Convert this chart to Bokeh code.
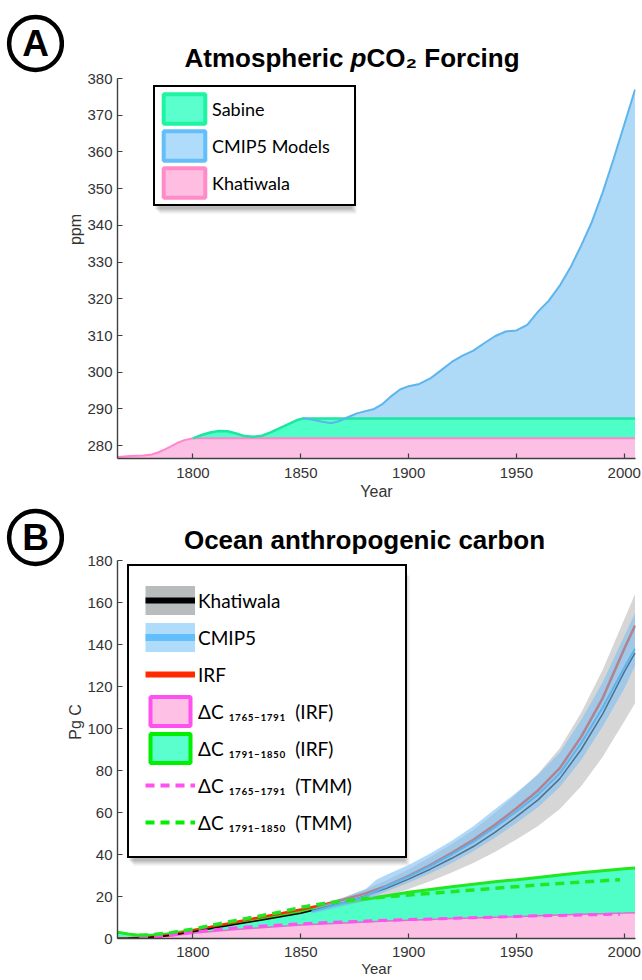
from bokeh.plotting import figure
from bokeh.models import Range1d, FixedTicker, Legend, LegendItem, Label, BoxAnnotation
from bokeh.layouts import column, row
from bokeh.embed import file_html
from bokeh.resources import INLINE

# ---------------- Panel A data (ppm) ----------------
khat_a_years = [1765, 1771, 1777, 1781, 1784, 1787, 1790, 1793, 1796, 1800, 2005]
khat_a_ppm = [276.9, 277.2, 277.3, 277.6, 278.2, 279.0, 279.9, 280.8, 281.5, 282.0, 282.0]

sabine_years = [1800, 1804, 1808, 1812, 1816, 1820, 1824, 1828, 1832, 1836, 1840, 1844, 1848, 1851, 1855, 2005]
sabine_ppm = [282.0, 282.9, 283.6, 284.0, 283.9, 283.3, 282.6, 282.4, 282.7, 283.6, 284.7, 285.8, 286.9, 287.4, 287.4, 287.4]

cmip_a_years = [1851, 1856, 1860, 1864, 1868, 1872, 1876, 1880, 1884, 1888, 1892, 1896, 1900, 1905,
                1910, 1915, 1920, 1925, 1930, 1935, 1940, 1945, 1950, 1955, 1960, 1965, 1970, 1975,
                1980, 1985, 1990, 1995, 2000, 2005]
cmip_a_ppm = [287.5, 287.0, 286.5, 286.1, 286.7, 287.8, 288.8, 289.4, 290.0, 291.4, 293.5, 295.3, 296.2, 296.8,
              298.3, 300.5, 302.8, 304.5, 305.9, 307.9, 309.8, 311.1, 311.4, 312.9, 316.5, 319.5, 323.5, 328.5,
              334.5, 341.0, 349.0, 358.0, 367.5, 377.0]

ya_ticks = [280, 290, 300, 310, 320, 330, 340, 350, 360, 370, 380]
x_ticks = [1800, 1850, 1900, 1950, 2000]

# ---------------- Panel B data (Pg C) ----------------
years_b = [1765, 1770, 1775, 1780, 1785, 1790, 1800, 1810, 1820, 1830, 1840, 1850, 1860, 1870,
           1880, 1890, 1900, 1910, 1920, 1930, 1940, 1950, 1960, 1970, 1980, 1990, 2000, 2005]
khat_b = [0.0, 0.1, 0.3, 0.6, 1.0, 1.6, 3.2, 5.0, 6.8, 8.5, 10.2, 12.0, 14.5, 17.2,
          20.3, 24.0, 28.3, 33.0, 38.2, 43.8, 50.5, 58.0, 66.0, 76.0, 90.0, 107.0, 127.0, 136.0]
khat_lo = [0.0, 0.0, 0.1, 0.3, 0.7, 1.2, 2.7, 4.4, 6.0, 7.5, 9.0, 10.5, 12.5, 14.7,
           17.2, 20.2, 23.6, 27.3, 31.4, 35.9, 41.2, 47.2, 53.6, 61.5, 72.5, 86.5, 103.5, 112.0]
khat_hi = [0.2, 0.3, 0.5, 0.9, 1.3, 2.0, 3.8, 5.7, 7.7, 9.6, 11.5, 13.6, 16.5, 19.7,
           23.4, 27.8, 33.0, 38.7, 45.0, 51.7, 59.8, 68.8, 78.5, 90.5, 107.5, 128.0, 152.0, 164.0]
irf_b = [0.0, 0.1, 0.3, 0.6, 1.1, 1.8, 3.8, 5.9, 7.9, 9.9, 11.8, 13.8, 16.0, 18.6,
         21.5, 25.2, 29.8, 35.0, 40.8, 47.0, 54.2, 62.0, 70.5, 81.0, 96.0, 114.5, 138.0, 149.0]
dc_1765_irf = [0.3, 0.35, 0.45, 0.6, 0.9, 1.3, 2.5, 3.5, 4.3, 5.0, 5.7, 6.4, 6.9, 7.4,
               7.9, 8.3, 8.7, 9.1, 9.5, 9.8, 10.1, 10.4, 10.8, 11.2, 11.5, 11.8, 12.1, 12.3]
dc_1791_irf_top = [3.0, 2.1, 1.6, 1.5, 1.8, 2.4, 3.9, 5.6, 7.5, 9.3, 11.2, 13.0, 15.0, 16.9,
                   18.7, 20.4, 22.0, 23.3, 24.6, 25.8, 27.0, 28.0, 29.1, 30.2, 31.3, 32.3, 33.2, 33.6]

years_c = [1855, 1860, 1870, 1880, 1885, 1890, 1900, 1910, 1920, 1930, 1940, 1950, 1960, 1970,
           1980, 1990, 2000, 2005]
cmip_b = [12.8, 14.2, 17.0, 20.0, 22.5, 25.0, 29.5, 34.5, 40.0, 46.0, 53.0, 60.5, 68.5, 78.5,
          93.0, 110.0, 129.0, 138.0]
cmip_hi = [13.8, 16.0, 19.5, 23.5, 28.0, 30.5, 35.0, 40.5, 46.5, 53.5, 61.5, 69.5, 78.0, 88.5,
           104.0, 122.0, 144.0, 155.0]
cmip_lo = [11.8, 13.0, 15.3, 18.0, 20.3, 22.5, 26.5, 31.0, 36.0, 41.5, 48.0, 55.0, 62.5, 72.0,
           85.0, 101.0, 119.0, 130.0]

years_t = [1775, 1780, 1790, 1800, 1810, 1820, 1830, 1840, 1850, 1860, 1870, 1880, 1890, 1900,
           1910, 1920, 1930, 1940, 1950, 1960, 1970, 1980, 1990, 1998]
dc_1765_tmm = [0.4, 0.6, 1.5, 3.0, 4.2, 5.1, 5.8, 6.4, 7.0, 7.5, 7.9, 8.3, 8.7, 9.0,
               9.3, 9.6, 9.9, 10.2, 10.5, 10.8, 11.0, 11.2, 11.4, 11.6]
dc_1791_tmm = [1.5, 1.7, 2.8, 4.5, 6.6, 8.6, 10.5, 12.5, 14.8, 16.6, 18.0, 19.0, 19.9, 20.7,
               21.5, 22.3, 23.1, 23.9, 24.7, 25.5, 26.2, 26.9, 27.5, 28.0]

yb_ticks = [0, 20, 40, 60, 80, 100, 120, 140, 160, 180]

# ranges: axis extent, and the view extends above the axis so the titles sit inside the frame
X_RANGE = (1765, 2005.2)
YA_AXIS = (276.5, 380)
YA_VIEW_TOP = 401.26
YB_AXIS = (0, 180)
YB_VIEW_TOP = 206.2

AX_COL = "#404040"
TXT_COL = "#333333"
AX_FONT = "Liberation Sans"
LEG_FONT = "Lato"
NAN = float("nan")


def style_axes(p, ylabel, yticks, ybounds, x_standoff, xlabel_standoff, xlabel_size):
    for ax in (p.xaxis[0], p.yaxis[0]):
        ax.major_tick_in = 5
        ax.major_tick_out = 0
        ax.minor_tick_line_color = None
        ax.axis_line_color = AX_COL
        ax.axis_line_width = 1.4
        ax.major_tick_line_color = AX_COL
        ax.major_tick_line_width = 1.2
        ax.major_label_text_font = AX_FONT
        ax.major_label_text_font_size = "15px"
        ax.major_label_text_color = TXT_COL
        ax.axis_label_text_font = AX_FONT
        ax.axis_label_text_font_size = "16px"
        ax.axis_label_text_font_style = "normal"
        ax.axis_label_text_color = TXT_COL
    p.yaxis[0].major_label_standoff = 5
    p.xaxis[0].major_label_standoff = x_standoff
    p.xaxis[0].ticker = FixedTicker(ticks=x_ticks)
    p.yaxis[0].ticker = FixedTicker(ticks=yticks)
    p.yaxis[0].bounds = ybounds
    p.yaxis[0].axis_label = ylabel
    p.yaxis[0].axis_label_standoff = 0
    p.xaxis[0].axis_label = "Year"
    p.xaxis[0].axis_label_standoff = xlabel_standoff
    p.xaxis[0].axis_label_text_font_size = xlabel_size
    p.xgrid.visible = False
    p.ygrid.visible = False
    p.outline_line_color = None


def badge(letter, height, cy):
    s = figure(width=64, height=height, output_backend="svg", toolbar_location=None,
               x_range=Range1d(0, 64), y_range=Range1d(0, height),
               x_axis_location=None, y_axis_location=None,
               min_border_left=0, min_border_right=0, min_border_top=0, min_border_bottom=0)
    s.grid.visible = False
    s.outline_line_color = None
    s.add_layout(Label(x=35, y=cy, x_units="canvas", y_units="canvas", text=letter,
                       text_font=AX_FONT, text_font_style="bold", text_font_size="37px",
                       text_align="center", text_baseline="middle", text_color="black",
                       background_fill_color="white", border_line_color="black",
                       border_line_width=4.5, border_radius=27,
                       padding=dict(left=13, right=13, top=6, bottom=6)))
    return s


def title_part(p, txt, x, y, style, align="left"):
    p.add_layout(Label(x=x, y=y, x_units="canvas", y_units="canvas", text=txt,
                       text_font=AX_FONT, text_font_style=style, text_font_size="26px",
                       text_align=align, text_baseline="alphabetic", text_color="black"))


def shadow(p, left, top, right, bottom):
    # soft drop shadow behind a legend box (canvas px)
    for dx, alpha in [(6, 0.07), (4, 0.10), (2, 0.12)]:
        p.add_layout(BoxAnnotation(left=left + dx, right=right + dx, top=top + dx + 1, bottom=bottom + dx + 1,
                                   left_units="canvas", right_units="canvas",
                                   top_units="canvas", bottom_units="canvas",
                                   fill_color="black", fill_alpha=alpha, line_color=None))


def legend_style():
    return dict(margin=0, label_text_font=LEG_FONT, label_text_color="black",
                border_line_color="black", border_line_width=2.5, border_line_alpha=1.0,
                background_fill_color="white", background_fill_alpha=1.0)


# ================= Panel A =================
pa = figure(width=578, height=505, output_backend="svg", toolbar_location=None,
            x_range=Range1d(*X_RANGE), y_range=Range1d(YA_AXIS[0], YA_VIEW_TOP),
            min_border_left=53, min_border_right=7, min_border_top=0, min_border_bottom=47)
style_axes(pa, "ppm", ya_ticks, YA_AXIS, 9, 2, "16px")

BLUE_FILL, BLUE_LINE = "#AEDAF8", "#5EB4EC"
GREEN_FILL, GREEN_LINE = "#4EFFC8", "#1EE6A0"
PINK_FILL, PINK_LINE = "#FBC0E3", "#FF86CF"

base_a = YA_AXIS[0]
pa.varea(x=cmip_a_years, y1=base_a, y2=cmip_a_ppm, fill_color=BLUE_FILL)
pa.varea(x=sabine_years, y1=base_a, y2=sabine_ppm, fill_color=GREEN_FILL)
pa.varea(x=khat_a_years, y1=base_a, y2=khat_a_ppm, fill_color=PINK_FILL)
pa.line(khat_a_years, khat_a_ppm, line_color=PINK_LINE, line_width=2)
pa.line(sabine_years, sabine_ppm, line_color=GREEN_LINE, line_width=2.5)
pa.line(cmip_a_years, cmip_a_ppm, line_color=BLUE_LINE, line_width=2)

la1 = pa.patch(x=[NAN], y=[NAN], fill_color="#5AFFCD", line_color="#1EF5A0", line_width=4)
la2 = pa.patch(x=[NAN], y=[NAN], fill_color="#AFDCFA", line_color="#64BEFA", line_width=4)
la3 = pa.patch(x=[NAN], y=[NAN], fill_color="#FFBEE1", line_color="#FF8CC8", line_width=4)
shadow(pa, 89, 89, 286, 206)
leg_a = Legend(items=[LegendItem(label="Sabine", renderers=[la1]),
                      LegendItem(label="CMIP5 Models", renderers=[la2]),
                      LegendItem(label="Khatiwala", renderers=[la3])],
               location=(36, 252), glyph_width=52, glyph_height=37, spacing=0, padding=3,
               label_standoff=2, label_width=139, label_text_font_size="18px", **legend_style())
pa.add_layout(leg_a)

# Title A (canvas px), above the bounded axis
title_part(pa, "Atmospheric", 120, 57, "bold")
title_part(pa, "p", 286, 57, "bold italic")
title_part(pa, "CO\u2082 Forcing", 302, 57, "bold")

# ================= Panel B =================
pb = figure(width=578, height=475, output_backend="svg", toolbar_location=None,
            x_range=Range1d(*X_RANGE), y_range=Range1d(YB_AXIS[0], YB_VIEW_TOP),
            min_border_left=53, min_border_right=7, min_border_top=0, min_border_bottom=42)
style_axes(pb, "Pg C", yb_ticks, YB_AXIS, 8, 0, "15px")

GRAY_BAND = "#D6D6D6"
PINKB_FILL, PINKB_LINE = "#FBC0E3", "#E070C8"
GREENB_FILL, GREENB_LINE = "#50FFC8", "#22E622"
CMIP_BAND, CMIP_LINE = "#7DBEF0", "#5AB4F0"
RED = "#FF2A00"

pb.varea(x=years_b, y1=khat_lo, y2=khat_hi, fill_color=GRAY_BAND)
pb.varea(x=years_b, y1=YB_AXIS[0], y2=dc_1765_irf, fill_color=PINKB_FILL)
pb.varea(x=years_b, y1=dc_1765_irf, y2=dc_1791_irf_top, fill_color=GREENB_FILL)
pb.line(years_b, dc_1765_irf, line_color=PINKB_LINE, line_width=1.5)
pb.line(years_b, dc_1791_irf_top, line_color=GREENB_LINE, line_width=3)
pb.line(years_b, irf_b, line_color=RED, line_width=2.5)
pb.line(years_b, khat_b, line_color="black", line_width=1.5)
pb.varea(x=years_c, y1=cmip_lo, y2=cmip_hi, fill_color=CMIP_BAND, fill_alpha=0.6)
pb.line(years_c, cmip_b, line_color=CMIP_LINE, line_width=2)
pb.line(years_t, dc_1765_tmm, line_color="#FF50F0", line_width=3, line_dash="9 6")
pb.line(years_t, dc_1791_tmm, line_color="#22E622", line_width=3.5, line_dash="9 6")

lb_kb = pb.line([NAN], [NAN], line_color="#B8BCBC", line_width=29)
lb_kl = pb.line([NAN], [NAN], line_color="black", line_width=6)
lb_cb = pb.line([NAN], [NAN], line_color="#AFDCFA", line_width=29)
lb_cl = pb.line([NAN], [NAN], line_color="#64BEFA", line_width=7)
lb_irf = pb.line([NAN], [NAN], line_color=RED, line_width=6)
lb_p = pb.patch(x=[NAN], y=[NAN], fill_color="#FFC0E6", line_color="#FF50F0", line_width=4)
lb_g = pb.patch(x=[NAN], y=[NAN], fill_color="#5AFFCD", line_color="#00F000", line_width=4)
lb_pd = pb.line([NAN], [NAN], line_color="#FF50F0", line_width=4, line_dash="9 6")
lb_gd = pb.line([NAN], [NAN], line_color="#00F000", line_width=4, line_dash="9 6")

shadow(pb, 63, 63, 339, 353)
leg_b = Legend(items=[LegendItem(label="Khatiwala", renderers=[lb_kb, lb_kl]),
                      LegendItem(label="CMIP5", renderers=[lb_cb, lb_cl]),
                      LegendItem(label="IRF", renderers=[lb_irf]),
                      LegendItem(label="\u0394C \u2081\u2087\u2086\u2085\u208b\u2081\u2087\u2089\u2081  (IRF)", renderers=[lb_p]),
                      LegendItem(label="\u0394C \u2081\u2087\u2089\u2081\u208b\u2081\u2088\u2085\u2080  (IRF)", renderers=[lb_g]),
                      LegendItem(label="\u0394C \u2081\u2087\u2086\u2085\u208b\u2081\u2087\u2089\u2081  (TMM)", renderers=[lb_pd]),
                      LegendItem(label="\u0394C \u2081\u2087\u2089\u2081\u208b\u2081\u2088\u2085\u2080  (TMM)", renderers=[lb_gd])],
               location=(10, 80), glyph_width=50, glyph_height=36, spacing=1, padding=16,
               label_standoff=3, label_width=191, label_text_font_size="19px", **legend_style())
pb.add_layout(leg_b)

title_part(pb, "Ocean anthropogenic carbon", 300, 34, "bold", align="center")

layout = column(row(badge("A", 505, 43), pa), row(badge("B", 475, 32), pb))
open("out.html", "w").write(file_html(layout, INLINE))
